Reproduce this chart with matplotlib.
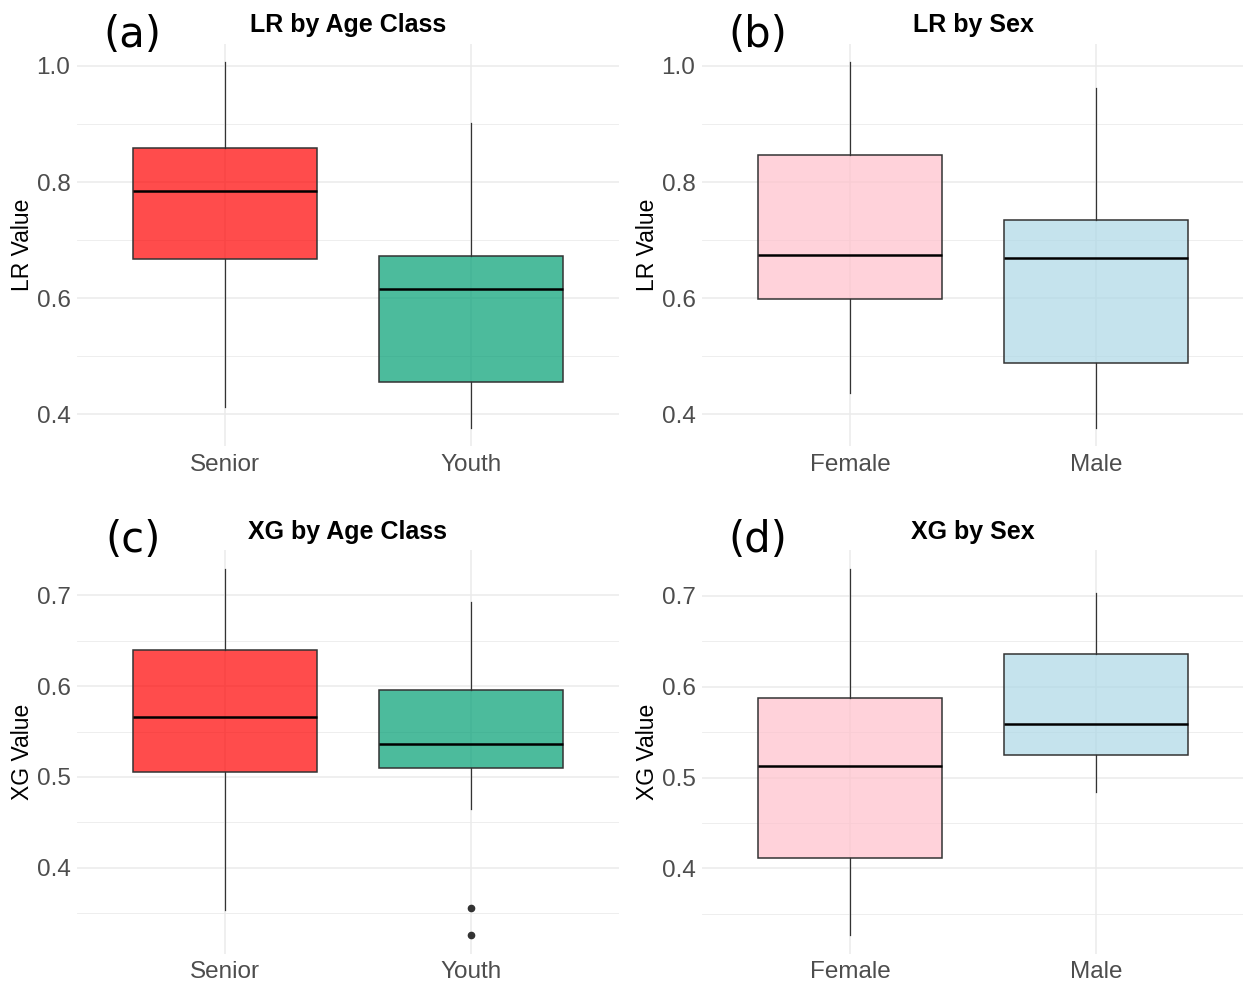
import matplotlib
matplotlib.use("Agg")
import matplotlib.pyplot as plt
from matplotlib.ticker import MultipleLocator, FormatStrFormatter

# five-number summaries per group (whisker low, Q1, median, Q3, whisker high)
age_groups = ["Senior", "Youth"]
sex_groups = ["Female", "Male"]

lr_age_whislo = [0.413, 0.377]
lr_age_q1 = [0.667, 0.456]
lr_age_med = [0.785, 0.616]
lr_age_q3 = [0.858, 0.673]
lr_age_whishi = [1.007, 0.902]
lr_age_fliers = [[], []]

lr_sex_whislo = [0.437, 0.377]
lr_sex_q1 = [0.599, 0.489]
lr_sex_med = [0.674, 0.670]
lr_sex_q3 = [0.847, 0.734]
lr_sex_whishi = [1.007, 0.962]
lr_sex_fliers = [[], []]

xg_age_whislo = [0.353, 0.465]
xg_age_q1 = [0.5055, 0.510]
xg_age_med = [0.566, 0.536]
xg_age_q3 = [0.640, 0.5955]
xg_age_whishi = [0.7295, 0.693]
xg_age_fliers = [[], [0.356, 0.3255]]

xg_sex_whislo = [0.3266, 0.4846]
xg_sex_q1 = [0.4114, 0.525]
xg_sex_med = [0.5132, 0.5587]
xg_sex_q3 = [0.5878, 0.636]
xg_sex_whishi = [0.7295, 0.703]
xg_sex_fliers = [[], []]

age_colors = ["#FF0000", "#009E73"]
sex_colors = ["#FFC0CB", "#ADD8E6"]

W, H = 1243, 983
fig = plt.figure(figsize=(W / 100, H / 100), dpi=100)
plt.rcParams["font.family"] = ["Liberation Sans", "DejaVu Sans"]


def px_axes(left, top, right, bottom):
    return fig.add_axes([left / W, 1 - bottom / H, (right - left) / W, (bottom - top) / H])


def draw_panel(ax, groups, whislo, q1, med, q3, whishi, fliers, colors,
               title, ylabel, tag, major, minor, tag_y):
    stats = []
    for i, g in enumerate(groups):
        stats.append(dict(label=g, whislo=whislo[i], q1=q1[i], med=med[i],
                          q3=q3[i], whishi=whishi[i], fliers=fliers[i]))
    res = ax.bxp(stats, positions=[1, 2], widths=0.75, patch_artist=True,
                 showcaps=False, zorder=3,
                 medianprops=dict(color="black", linewidth=1.8),
                 whiskerprops=dict(color="#333333", linewidth=0.9),
                 boxprops=dict(edgecolor="#333333", linewidth=1.1),
                 flierprops=dict(marker="o", markersize=4.5, markerfacecolor="#333333",
                                 markeredgecolor="#333333"))
    for patch, c in zip(res["boxes"], colors):
        patch.set_facecolor(matplotlib.colors.to_rgba(c, 0.7))

    # ggplot-style 5% expansion on y, 0.6 on the discrete axis
    lo = min(min(whislo), min([v for f in fliers for v in f] or [1e9]))
    hi = max(whishi)
    pad = (hi - lo) * 0.05
    ax.set_ylim(lo - pad, hi + pad)
    ax.set_xlim(0.4, 2.6)

    ax.yaxis.set_major_locator(MultipleLocator(major))
    ax.yaxis.set_minor_locator(MultipleLocator(minor))
    ax.yaxis.set_major_formatter(FormatStrFormatter("%.1f"))
    ax.set_xticks([1, 2])
    ax.set_xticklabels(groups)
    ax.grid(True, which="major", color="#EBEBEB", linewidth=1.1, zorder=0)
    ax.grid(True, which="minor", axis="y", color="#EBEBEB", linewidth=0.6, zorder=0)
    ax.set_axisbelow(True)
    for s in ax.spines.values():
        s.set_visible(False)
    ax.tick_params(which="both", length=0)
    ax.tick_params(axis="y", labelsize=17.5, labelcolor="#4D4D4D", pad=5)
    ax.tick_params(axis="x", labelsize=17.5, labelcolor="#4D4D4D", pad=5.5)

    ax.set_ylabel(ylabel, fontsize=16.5, color="black")
    ax.yaxis.set_label_coords(-0.081, 0.5)
    ax.set_title(title, fontsize=18, fontweight="bold", pad=8)
    ax.text(0.102, tag_y, tag, transform=ax.transAxes, fontsize=30,
            family="DejaVu Sans", ha="center", va="center")


ax_a = px_axes(77.4, 43.6, 618.6, 446)
ax_b = px_axes(702.4, 43.6, 1243.6, 446)
ax_c = px_axes(77.4, 550.4, 618.6, 953.6)
ax_d = px_axes(702.4, 550.4, 1243.6, 953.6)

draw_panel(ax_a, age_groups, lr_age_whislo, lr_age_q1, lr_age_med, lr_age_q3,
           lr_age_whishi, lr_age_fliers, age_colors, "LR by Age Class", "LR Value",
           "(a)", 0.2, 0.1, 1.021)
draw_panel(ax_b, sex_groups, lr_sex_whislo, lr_sex_q1, lr_sex_med, lr_sex_q3,
           lr_sex_whishi, lr_sex_fliers, sex_colors, "LR by Sex", "LR Value",
           "(b)", 0.2, 0.1, 1.021)
draw_panel(ax_c, age_groups, xg_age_whislo, xg_age_q1, xg_age_med, xg_age_q3,
           xg_age_whishi, xg_age_fliers, age_colors, "XG by Age Class", "XG Value",
           "(c)", 0.1, 0.05, 1.025)
draw_panel(ax_d, sex_groups, xg_sex_whislo, xg_sex_q1, xg_sex_med, xg_sex_q3,
           xg_sex_whishi, xg_sex_fliers, sex_colors, "XG by Sex", "XG Value",
           "(d)", 0.1, 0.05, 1.025)

fig.savefig("out.png", dpi=100, facecolor="white")
